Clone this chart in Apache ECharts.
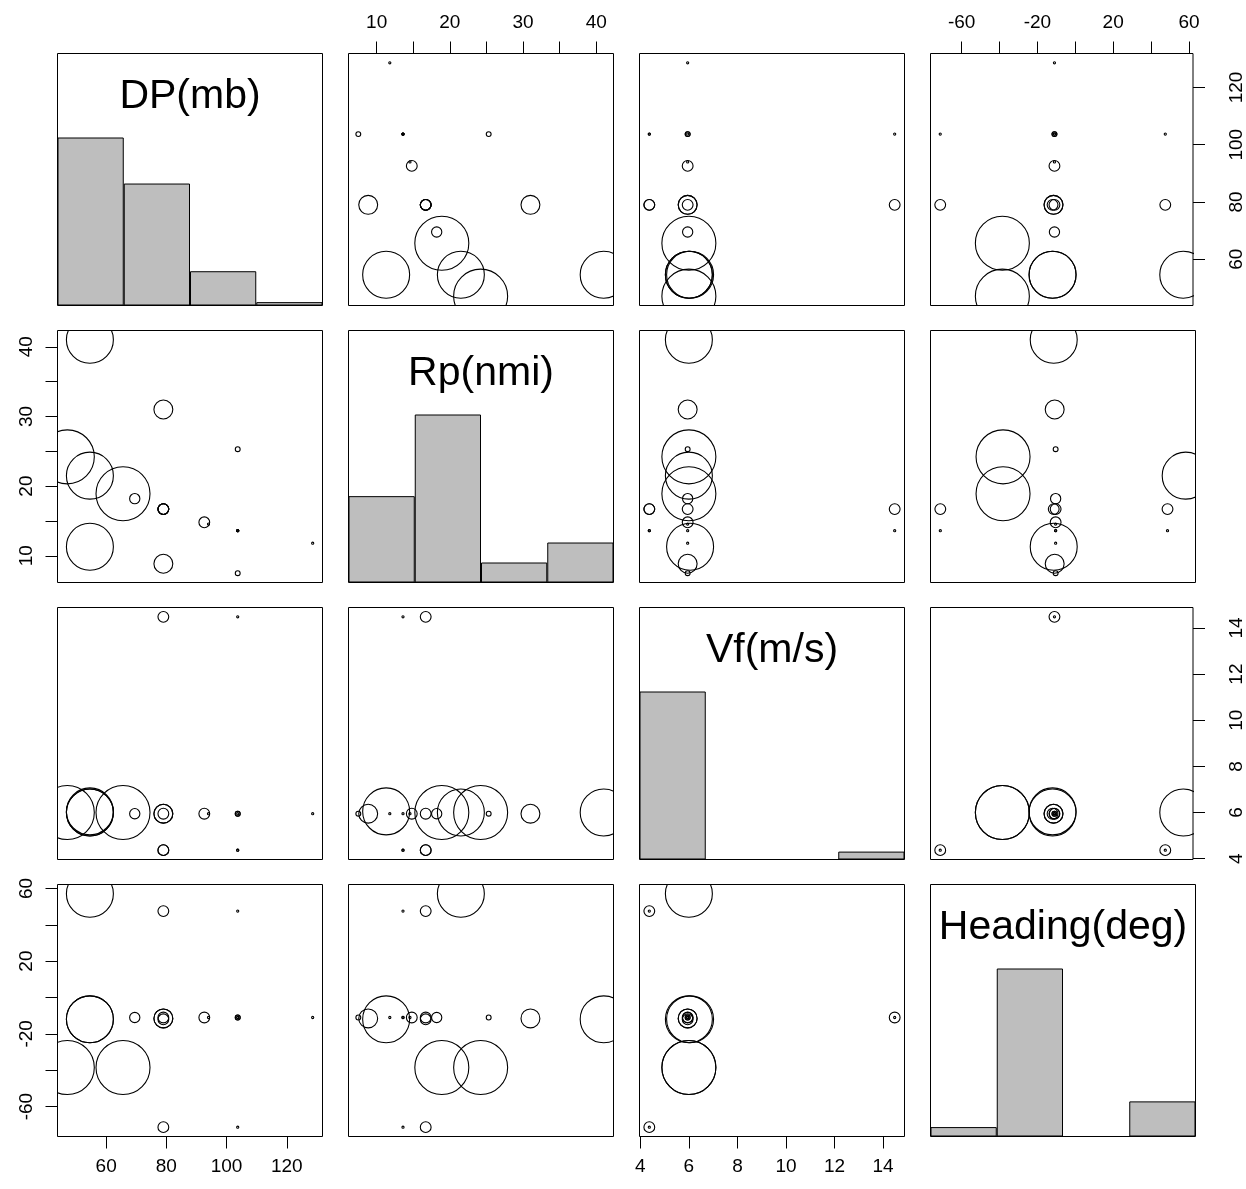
<!DOCTYPE html>
<html><head><meta charset="utf-8">
<script src="https://cdn.jsdelivr.net/npm/echarts@6/dist/echarts.min.js"></script>
<style>html,body{margin:0;padding:0;background:#fff}#c{width:1246px;height:1189px}</style>
</head><body><div id="c"></div>
<script>
// ---- data ----
const varNames = ['DP(mb)', 'Rp(nmi)', 'Vf(m/s)', 'Heading(deg)'];
const dp      = [47.1, 54.6, 54.6, 65.6, 54.6, 69.5, 79, 79, 79, 79, 79, 79, 92.6, 103.7, 103.7, 103.7, 103.7, 103.7, 103.7, 128.6, 94.0];
const rp      = [24.2, 41.0, 21.5, 18.9, 11.3, 18.2, 31.0, 8.85, 16.7, 16.7, 16.7, 16.7, 14.8, 25.3, 7.5, 13.6, 13.6, 13.6, 13.6, 11.8, 14.55];
const vf      = [6.0, 6.0, 6.0, 6.0, 6.05, 5.95, 5.95, 5.95, 4.37, 4.37, 14.48, 5.95, 5.95, 5.95, 5.95, 5.95, 4.37, 4.37, 14.48, 5.95, 5.95];
const heading = [-38.5, -12, 57, -38.5, -12, -11, -11.5, -11.5, -71.3, 47.5, -11, -12, -11, -11, -11, -11, -71.3, 47.5, -11, -11, -11];
const weight  = [1.0, 0.87, 0.87, 1.0, 0.87, 0.19, 0.35, 0.35, 0.2, 0.2, 0.2, 0.2, 0.2, 0.09, 0.09, 0.04, 0.04, 0.04, 0.04, 0.04, 0.04];

const dpHist      = [1.0, 0.726, 0.204, 0.02];
const rpHist      = [0.514, 1.0, 0.119, 0.238];
const vfHist      = [1.0, 0, 0, 0.047];
const headingHist = [0.056, 1.0, 0, 0.209];

const dpTicks = [60, 80, 100, 120];
const dpLabels = [60, 80, 100, 120];
const rpTicks = [10, 15, 20, 25, 30, 35, 40];
const rpLabels = [10, 20, 30, 40];
const vfTicks = [4, 6, 8, 10, 12, 14];
const vfLabels = [4, 6, 8, 10, 12, 14];
const headingTicks = [-60, -40, -20, 0, 20, 40, 60];
const headingLabels = [-60, -20, 20, 60];

// ---- build ----
const vars = [dp, rp, vf, heading];
const hists = [dpHist, rpHist, vfHist, headingHist];
const ticks = [dpTicks, rpTicks, vfTicks, headingTicks];
const labels = [dpLabels, rpLabels, vfLabels, headingLabels];
const FONT = "'Liberation Sans', Arial, Helvetica, sans-serif";

function range(a) {
  const mn = Math.min(...a), mx = Math.max(...a), d = (mx - mn) * 0.04;
  return [mn - d, mx + d];
}
const ranges = vars.map(range);

const LEFT0 = 57.5, COLSTEP = 291, W = 265;
const TOP0 = 53.5, ROWSTEP = 277, H = 252;
const R_UNIT = 27; // radius in px for weight 1

const grids = [], xAxes = [], yAxes = [], series = [], titles = [];

function axisCommon(show, pos, k, margin, rotate) {
  return {
    show: show,
    position: pos,
    splitLine: { show: false },
    axisLine: { show: false, onZero: false },
    axisTick: { show: true, inside: false, length: 12, lineStyle: { color: '#000', width: 1 }, customValues: ticks[k] },
    axisLabel: { show: true, color: '#000', fontSize: 19, fontFamily: FONT, margin: margin, rotate: rotate, customValues: labels[k] }
  };
}

function renderCircle(params, api) {
  const p = api.coord([api.value(0), api.value(1)]);
  return {
    type: 'circle',
    shape: { cx: p[0], cy: p[1], r: Math.max(1, api.value(2) * R_UNIT) },
    style: { fill: 'none', stroke: '#000', lineWidth: 1.1 }
  };
}

let gi = 0;
for (let i = 0; i < 4; i++) {
  for (let j = 0; j < 4; j++) {
    grids.push({
      left: LEFT0 + j * COLSTEP, top: TOP0 + i * ROWSTEP, width: W, height: H,
      show: true, borderColor: '#000', borderWidth: 1, backgroundColor: 'transparent', containLabel: false
    });
    if (i === j) {
      xAxes.push({ gridIndex: gi, type: 'category', data: ['1', '2', '3', '4'], show: false, boundaryGap: true });
      yAxes.push({ gridIndex: gi, type: 'value', min: 0, max: 1.5, show: false });
      series.push({
        type: 'bar', xAxisIndex: gi, yAxisIndex: gi, data: hists[i], barWidth: '100%', silent: true,
        itemStyle: { color: '#bebebe', borderColor: '#000', borderWidth: 1 }
      });
      titles.push({
        text: varNames[i], left: LEFT0 + j * COLSTEP + W / 2, top: TOP0 + i * ROWSTEP + 23,
        textAlign: 'center', padding: 0,
        textStyle: { fontSize: 41, fontWeight: 'normal', color: '#000', fontFamily: FONT }
      });
    } else {
      const showTop = (i === 0 && j % 2 === 1);
      const showBottom = (i === 3 && j % 2 === 0);
      const showLeft = (j === 0 && i % 2 === 1);
      const showRight = (j === 3 && i % 2 === 0);
      const xa = axisCommon(showTop || showBottom, showTop ? 'top' : 'bottom', j, 21, 0);
      xa.gridIndex = gi; xa.type = 'value'; xa.min = ranges[j][0]; xa.max = ranges[j][1];
      const ya = axisCommon(showLeft || showRight, showRight ? 'right' : 'left', i, showRight ? 34 : 21, 90);
      ya.gridIndex = gi; ya.type = 'value'; ya.min = ranges[i][0]; ya.max = ranges[i][1];
      xAxes.push(xa); yAxes.push(ya);
      const pts = vars[j].map((v, n) => [v, vars[i][n], weight[n]]);
      series.push({
        type: 'custom', xAxisIndex: gi, yAxisIndex: gi, data: pts, clip: true, silent: true,
        encode: { x: 0, y: 1 },
        renderItem: renderCircle
      });
    }
    gi++;
  }
}

const chart = echarts.init(document.getElementById('c'), null, { renderer: 'canvas' });
chart.setOption({
  animation: false,
  backgroundColor: '#fff',
  title: titles,
  grid: grids,
  xAxis: xAxes,
  yAxis: yAxes,
  series: series
});
</script>
</body></html>
